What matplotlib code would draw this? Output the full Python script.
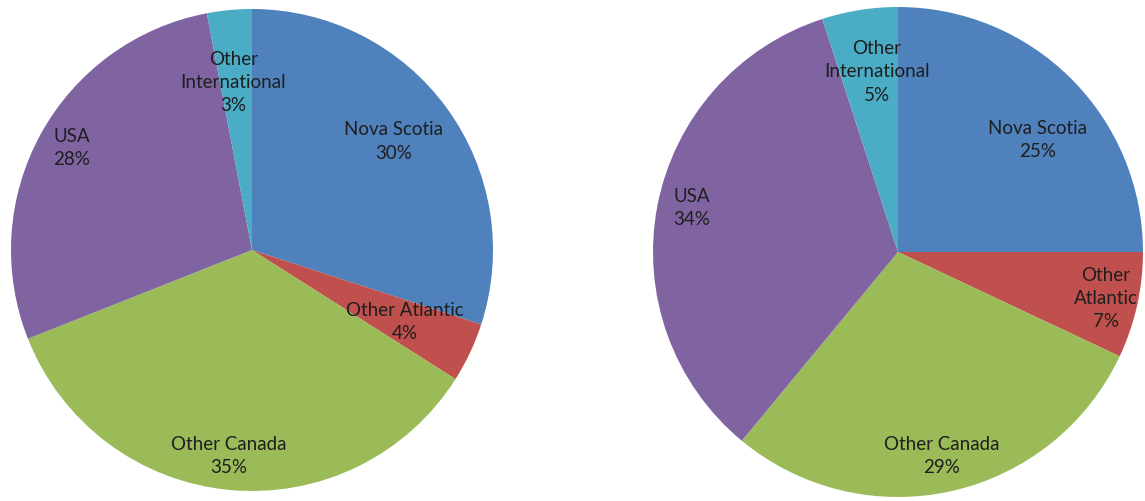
import matplotlib
matplotlib.use("Agg")
import matplotlib.pyplot as plt
import numpy as np

# slice order goes clockwise from 12 o'clock
categories = ["Nova Scotia", "Other Atlantic", "Other Canada", "USA", "Other International"]
share_left = [30, 4, 35, 28, 3]
share_right = [25, 7, 29, 34, 5]

# label text as it wraps inside each slice
labels_left = ["Nova Scotia", "Other Atlantic", "Other Canada", "USA", "Other\nInternational"]
labels_right = ["Nova Scotia", "Other\nAtlantic", "Other Canada", "USA", "Other\nInternational"]

colors = ["#4F81BD", "#C0504D", "#9BBB59", "#8064A2", "#4BACC6"]

# where the labels sit: radius fraction and angle nudge (deg) per slice
dist_left = [0.74, 0.70, 0.86, 0.86, 0.70]
nudge_left = [1.5, 0, -1, -0.7, 1]
dist_right = [0.73, 0.87, 0.85, 0.86, 0.74]
nudge_right = [-6.3, 0, -0.6, -1.2, -2.3]

W, H = 1145, 501
fig = plt.figure(figsize=(W / 100, H / 100), dpi=100)


def draw_pie(cx, cy, r, values, labels, dist, nudge):
    # cx, cy, r in pixels from top-left
    ax = fig.add_axes([(cx - r) / W, (H - cy - r) / H, 2 * r / W, 2 * r / H])
    wedges, _ = ax.pie(values, colors=colors, startangle=90, counterclock=False,
                       wedgeprops=dict(linewidth=0))
    for w, v, lab, d, n in zip(wedges, values, labels, dist, nudge):
        ang = np.deg2rad((w.theta1 + w.theta2) / 2 + n)
        ax.text(d * np.cos(ang), d * np.sin(ang), "%s\n%d%%" % (lab, v),
                ha="center", va="center", fontsize=13.5, family="Lato",
                color="#1e1e1e", linespacing=1.45)
    ax.set_xlim(-1, 1)
    ax.set_ylim(-1, 1)
    ax.set_aspect("equal")
    ax.axis("off")


draw_pie(252, 250, 241, share_left, labels_left, dist_left, nudge_left)
draw_pie(898, 252, 245, share_right, labels_right, dist_right, nudge_right)

fig.savefig("out.png", dpi=100, facecolor="white")
